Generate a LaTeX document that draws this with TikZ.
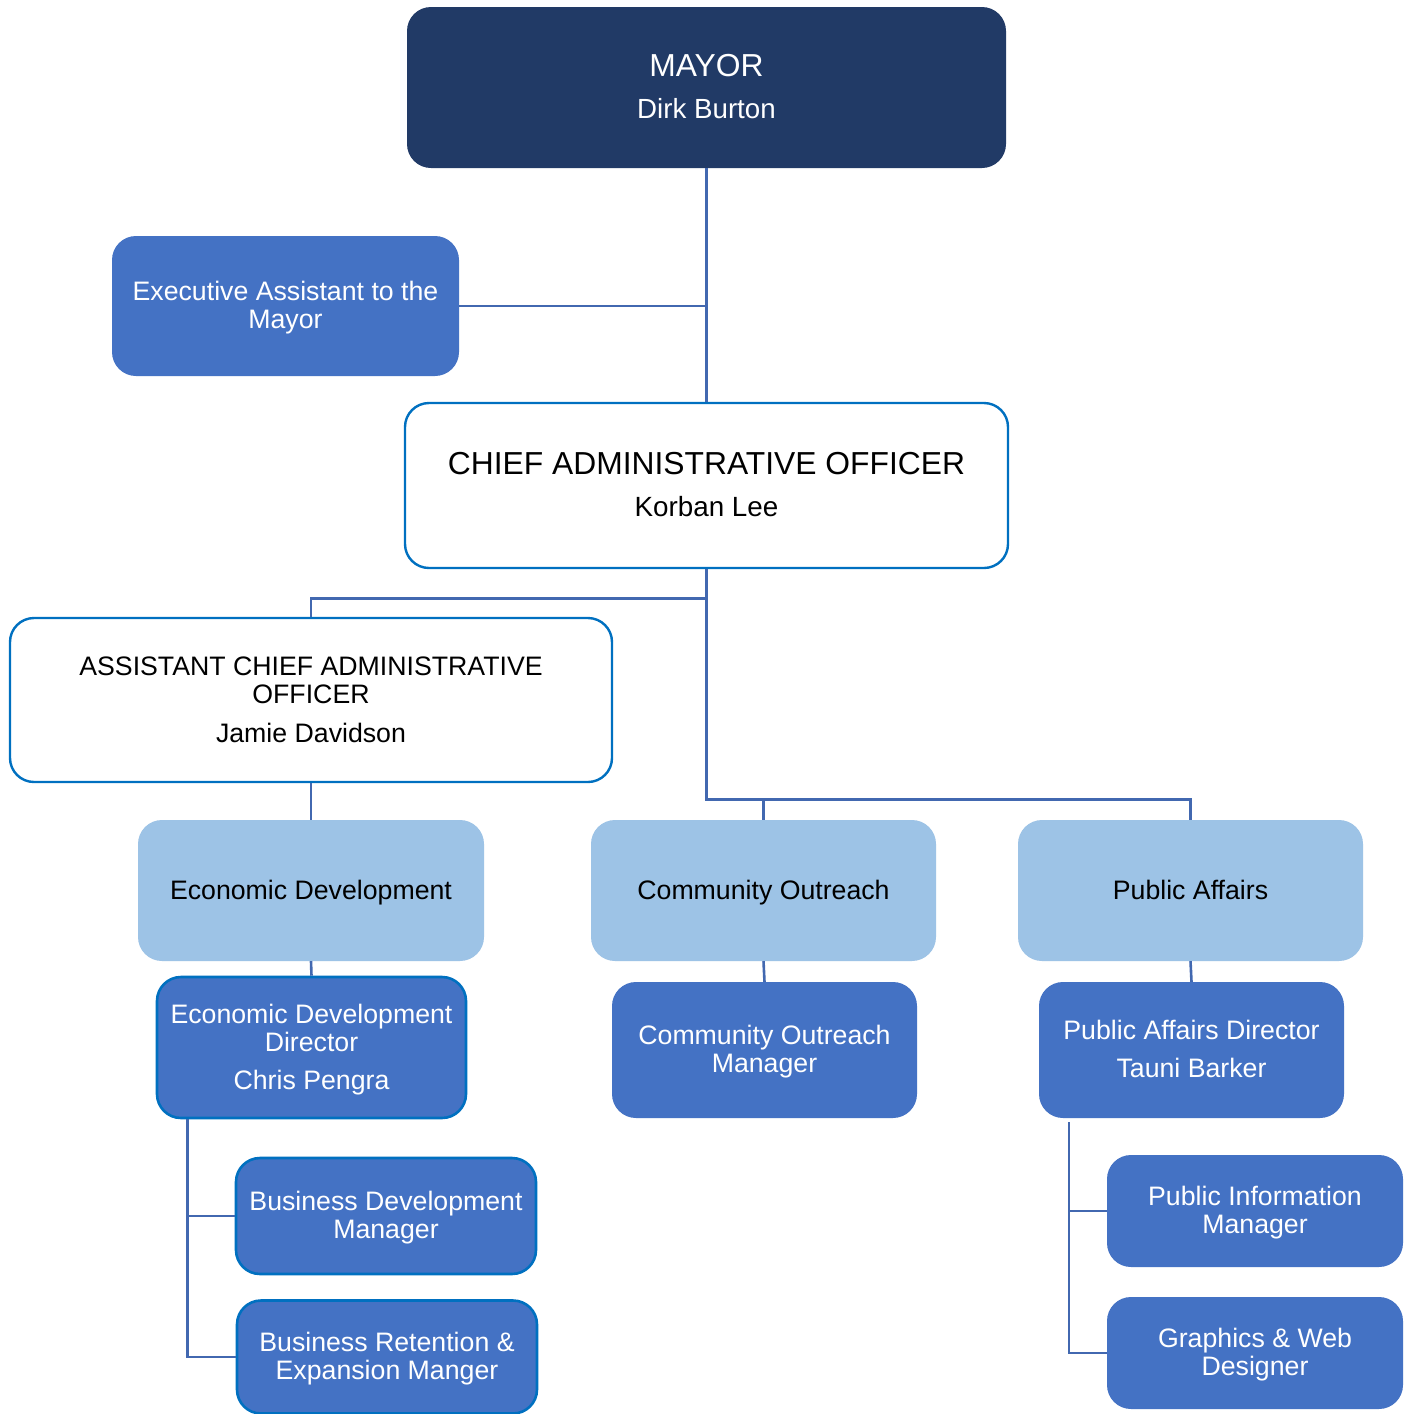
\documentclass[tikz,border=0pt]{standalone}
\usepackage{fontspec}
\setmainfont{Liberation Sans}
\usetikzlibrary{calc}
\definecolor{navy}{HTML}{213A66}
\definecolor{midblue}{HTML}{4472C4}
\definecolor{lightblue}{HTML}{9DC3E6}
\definecolor{edgeblue}{HTML}{0070C0}
\definecolor{connblue}{HTML}{4268B0}
\begin{document}
\begin{tikzpicture}[x=1pt,y=-1pt,
  basebox/.style={rounded corners=24pt, align=center, inner sep=0pt, text depth=1.6pt,
    font=\fontsize{26.7}{28}\selectfont},
  navybox/.style={basebox, fill=navy, text=white},
  whitebox/.style={basebox, fill=white, draw=edgeblue, line width=2.4pt, text=black},
  deptbox/.style={basebox, fill=lightblue, text=black},
  staffbox/.style={basebox, fill=midblue, text=white},
  edgedbox/.style={basebox, fill=midblue, draw=edgeblue, line width=2.6pt, text=white},
  conn/.style={draw=connblue, line width=2.6pt}]
\useasboundingbox (0,0) rectangle (1410,1414);
\fill[white] (0,0) rectangle (1410,1414);

% nodes
\node[navybox, minimum width=599pt, minimum height=161pt] (mayor) at (706.5,87.5)
  {{\fontsize{31.8}{32}\selectfont MAYOR}\\[14pt]{\fontsize{27.7}{29}\selectfont Dirk Burton}};
\node[staffbox, minimum width=347pt, minimum height=140pt] (exec) at (285.5,306)
  {Executive Assistant to the\\Mayor};
\node[whitebox, minimum width=603pt, minimum height=165pt] (cao) at (706.5,485.5)
  {{\fontsize{31.8}{32}\selectfont CHIEF ADMINISTRATIVE OFFICER}\\[14pt]{\fontsize{27.8}{29}\selectfont Korban Lee}};
\node[whitebox, minimum width=602pt, minimum height=164pt] (acao) at (311,700)
  {ASSISTANT CHIEF ADMINISTRATIVE\\OFFICER\\[11pt]Jamie Davidson};
\node[deptbox, minimum width=346pt, minimum height=141pt] (ed) at (311,890.5)
  {Economic Development};
\node[deptbox, minimum width=345pt, minimum height=141pt] (co) at (763.5,890.5)
  {Community Outreach};
\node[deptbox, minimum width=345pt, minimum height=141pt] (pa) at (1190.5,890.5)
  {Public Affairs};
\node[edgedbox, minimum width=309pt, minimum height=141pt] (edd) at (311.5,1047.5)
  {Economic Development\\Director\\[10pt]Chris Pengra};
\node[staffbox, minimum width=305pt, minimum height=136pt] (com) at (764.5,1050)
  {Community Outreach\\Manager};
\node[staffbox, minimum width=305pt, minimum height=136pt] (pad) at (1191.5,1050)
  {Public Affairs Director\\[10pt]Tauni Barker};
\node[edgedbox, minimum width=300pt, minimum height=116pt] (bdm) at (386,1216)
  {Business Development\\Manager};
\node[edgedbox, minimum width=300pt, minimum height=113pt] (brm) at (387,1357)
  {Business Retention \&\\Expansion Manger};
\node[staffbox, minimum width=296pt, minimum height=112pt] (pim) at (1255,1211)
  {Public Information\\Manager};
\node[staffbox, minimum width=296pt, minimum height=112pt] (gwd) at (1255,1353)
  {Graphics \& Web\\Designer};

% connectors
\draw[conn] (mayor.south) -- (cao.north);
\draw[conn] (exec.east) -- (exec.east -| mayor.south);
\coordinate (j0) at ($(cao.south)+(0,29)$);
\coordinate (j1) at ($(cao.south)+(0,230)$);
\draw[conn] (cao.south) -- (j1) -| (pa.north);
\draw[conn] (co.north) -- (co.north |- j1);
\draw[conn] (j0) -| (acao.north);
\draw[conn] (acao.south) -- (ed.north);
\draw[conn] (ed.south) -- (edd.north);
\draw[conn] (co.south) -- (com.north);
\draw[conn] (pa.south) -- (pad.north);
\coordinate (e0) at ($(edd.south west)+(32,0)$);
\draw[conn] (e0) |- (brm.west);
\draw[conn] (bdm.west) -- (bdm.west -| e0);
\coordinate (p0) at ($(pad.south west)+(30,4)$);
\draw[conn] (p0) |- (gwd.west);
\draw[conn] (pim.west) -- (pim.west -| p0);
\end{tikzpicture}
\end{document}
